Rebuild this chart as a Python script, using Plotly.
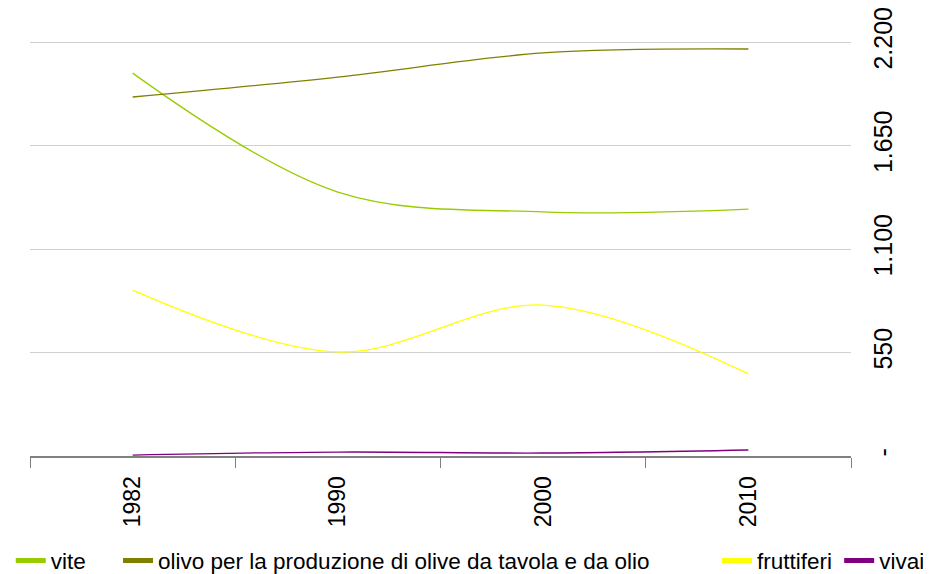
import plotly.graph_objects as go

years = ["1982", "1990", "2000", "2010"]
vite = [2035, 1403, 1297, 1312]
olivo = [1908, 2014, 2142, 2163]
fruttiferi = [882, 553, 802, 436]
vivai = [5, 21, 16, 32]

y_tickvals = [0, 550, 1100, 1650, 2200]
y_ticktext = ["-", "550", "1.100", "1.650", "2.200"]

series = [
    ("vite", vite, "#99CC00"),
    ("olivo per la produzione di olive da tavola e da olio", olivo, "#808000"),
    ("fruttiferi", fruttiferi, "#FFFF00"),
    ("vivai", vivai, "#800080"),
]
# horizontal position of each legend entry (fraction of figure width)
legend_x = [0.003, 0.1192, 0.7681, 0.9005]
legend_ids = ["legend", "legend2", "legend3", "legend4"]

fig = go.Figure()
for name, vals, col in series:
    fig.add_trace(go.Scatter(
        x=years, y=vals, name=name, mode="lines", showlegend=False,
        line=dict(color=col, width=1.3, shape="spline", smoothing=1.0),
    ))
# legend entries with thick line symbols, each in its own legend box
for (name, vals, col), lid in zip(series, legend_ids):
    fig.add_trace(go.Scatter(
        x=[None], y=[None], name=name, mode="lines", showlegend=True,
        line=dict(color=col, width=5), legend=lid,
    ))

font = "Liberation Sans, Arial, sans-serif"
legend_layout = {}
for lid, lx in zip(legend_ids, legend_x):
    legend_layout[lid] = dict(
        orientation="h", x=lx, xref="container", xanchor="left",
        y=0.023, yref="container", yanchor="middle",
        font=dict(size=22.5, family=font), itemwidth=30,
        bgcolor="rgba(0,0,0,0)",
    )

fig.update_layout(
    width=923, height=566,
    margin=dict(l=22, r=80, t=0, b=118),
    paper_bgcolor="white", plot_bgcolor="white",
    font=dict(family=font, color="black", size=20),
    showlegend=True,
    xaxis=dict(
        type="category", tickson="boundaries", ticks="outside", ticklen=10,
        tickcolor="#808080", tickwidth=1, showline=True, linecolor="#808080",
        linewidth=2, showgrid=False, tickangle=-90, tickfont=dict(size=23),
        range=[-0.5, 3.5], automargin=False, ticklabelstandoff=9,
    ),
    yaxis=dict(
        side="right", range=[0, 2381], tickvals=y_tickvals, ticktext=y_ticktext,
        showgrid=True, gridcolor="#d0d0d0", gridwidth=1, zeroline=False,
        showline=False, ticks="", tickangle=-90, tickfont=dict(size=25),
        ticklabelstandoff=15, automargin=False, ticklabeloverflow="allow",
    ),
    **legend_layout,
)

fig.write_html("out.html")
